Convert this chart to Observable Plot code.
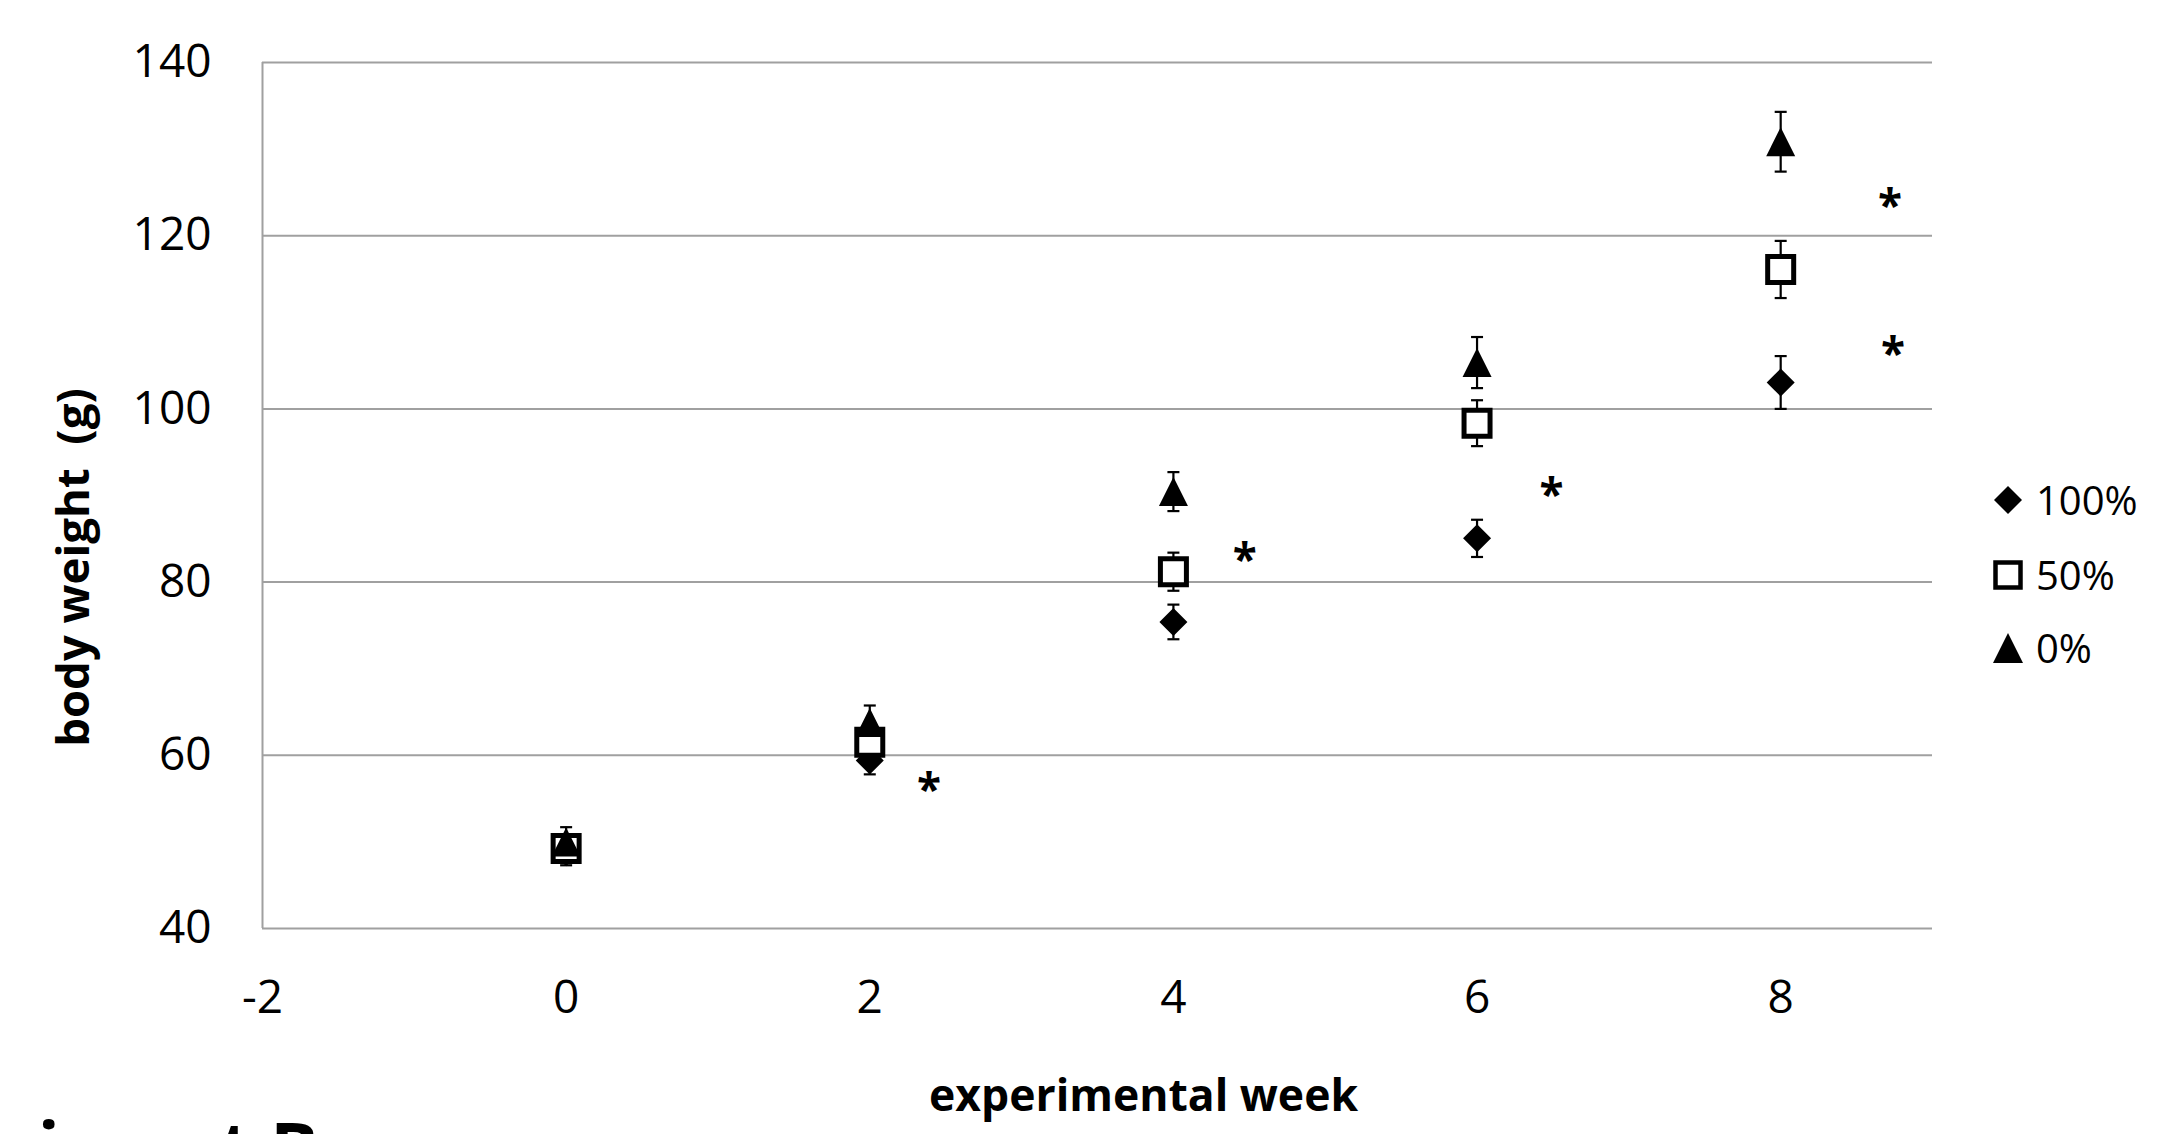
<!DOCTYPE html>
<html>
<head>
<meta charset="utf-8">
<script src="https://cdn.jsdelivr.net/npm/d3@7"></script>
<script src="https://cdn.jsdelivr.net/npm/@observablehq/plot@0.6"></script>
<style>
  html, body { margin: 0; padding: 0; background: #fff; }
  #wrap { position: relative; width: 2176px; height: 1134px; overflow: hidden; font-family: "Open Sans", sans-serif; color: #000; }
  #wrap svg.plot { position: absolute; left: 0; top: 0; }
  .lg { position: absolute; left: 1990px; height: 40px; display: flex; align-items: center; font-size: 40px; line-height: 40px; white-space: nowrap; }
  .lg svg { width: 36px; height: 36px; margin-right: 10px; overflow: visible; }
  #panel { position: absolute; left: -165px; top: 1110px; font-weight: bold; font-size: 72px; line-height: 72px; white-space: nowrap; }
</style>
</head>
<body>
<div id="wrap"></div>
<script>
// ---- data ----
const weeks = [0, 2, 4, 6, 8];
const groups = ["100%", "50%", "0%"];
const mean100 = [48.8, 59.4, 75.4, 85.05, 103.05];
const sem100  = [1.5, 1.6, 2.0, 2.15, 3.05];
const mean50  = [49.25, 61.5, 81.2, 98.35, 116.1];
const sem50   = [1.2, 1.4, 2.2, 2.65, 3.3];
const mean0   = [50.0, 63.8, 90.45, 105.35, 130.85];
const sem0    = [1.7, 1.95, 2.25, 2.95, 3.45];
const sigWeek   = [2.39, 4.47, 6.49, 8.72, 8.74];
const sigWeight = [56.8, 83.4, 90.9, 124.2, 107.2];
const sigLabel  = ["*", "*", "*", "*", "*"];
const xTicks = [-2, 0, 2, 4, 6, 8];
const yTicks = [40, 60, 80, 100, 120, 140];
const xLabel = "experimental week";
const yLabel = "body weight \u00a0(g)";
const panelLabel = "Experiment B";

// ---- tables built from the arrays ----
const series = [
  {group: groups[0], mean: mean100, sem: sem100},
  {group: groups[1], mean: mean50, sem: sem50},
  {group: groups[2], mean: mean0, sem: sem0}
];
const rows = series.flatMap(s => weeks.map((w, i) => ({group: s.group, week: w, mean: s.mean[i], sem: s.sem[i]})));
const byGroup = g => rows.filter(d => d.group === g);
const sig = sigWeek.map((w, i) => ({week: w, weight: sigWeight[i], label: sigLabel[i]}));

// ---- custom marker shapes (r = half extent) ----
const rad = size => Math.sqrt(size / Math.PI);
const diamondSym = {draw(c, s) { const r = rad(s); c.moveTo(0, -r); c.lineTo(r, 0); c.lineTo(0, r); c.lineTo(-r, 0); c.closePath(); }};
const squareSym  = {draw(c, s) { const r = rad(s); c.moveTo(-r, -r); c.lineTo(r, -r); c.lineTo(r, r); c.lineTo(-r, r); c.closePath(); }};
const triSym     = {draw(c, s) { const r = rad(s); c.moveTo(0, -r); c.lineTo(r, r); c.lineTo(-r, r); c.closePath(); }};
const capSym     = {draw(c, s) { const r = rad(s); c.moveTo(-r, 0); c.lineTo(r, 0); }};

const grid = "#a0a0a0";

const plot = Plot.plot({
  width: 2176,
  height: 1134,
  marginLeft: 262,
  marginRight: 244,
  marginTop: 62,
  marginBottom: 206,
  x: {domain: [-2, 9], ticks: xTicks},
  y: {domain: [40, 140], ticks: yTicks},
  style: {fontFamily: "Open Sans", fontSize: "46px", color: "#000", background: "transparent", overflow: "visible"},
  marks: [
    Plot.gridY(yTicks, {stroke: grid, strokeOpacity: 1, strokeWidth: 2}),
    Plot.ruleX([xTicks[0]], {stroke: grid, strokeOpacity: 1, strokeWidth: 2}),
    Plot.axisY(yTicks, {tickSize: 0, tickPadding: 51, fontSize: 46, label: null, tickFormat: d => String(d)}),
    Plot.axisX(xTicks, {tickSize: 0, tickPadding: 52, fontSize: 46, label: null, tickFormat: d => String(d)}),
    // error bars
    Plot.ruleX(rows, {x: "week", y1: d => d.mean - d.sem, y2: d => d.mean + d.sem, stroke: "#000", strokeWidth: 2.2}),
    Plot.dot(rows, {x: "week", y: d => d.mean + d.sem, symbol: capSym, r: 6, stroke: "#000", strokeWidth: 2.2}),
    Plot.dot(rows, {x: "week", y: d => d.mean - d.sem, symbol: capSym, r: 6, stroke: "#000", strokeWidth: 2.2}),
    // markers (Excel series order)
    Plot.dot(byGroup(groups[0]), {x: "week", y: "mean", symbol: diamondSym, r: 14, fill: "#000", stroke: "none"}),
    Plot.dot(byGroup(groups[1]), {x: "week", y: "mean", symbol: squareSym, r: 13, fill: "#fff", stroke: "#000", strokeWidth: 5}),
    Plot.dot(byGroup(groups[2]), {x: "week", y: "mean", symbol: triSym, r: 14.5, fill: "#000", stroke: "none"}),
    // significance asterisks
    Plot.text(sig, {x: "week", y: "weight", text: "label", fontSize: 44, fontWeight: "bold", dy: 8}),
    // axis titles
    Plot.text([xLabel], {text: d => d, frameAnchor: "bottom", textAnchor: "middle", dx: 46, dy: 168, fontSize: 44.5, fontWeight: "bold", lineAnchor: "middle"}),
    Plot.text([yLabel], {text: d => d, frameAnchor: "left", textAnchor: "middle", rotate: -90, dx: -188, dy: 72, fontSize: 45.5, fontWeight: "bold", lineAnchor: "middle"})
  ]
});
plot.classList.add("plot");
const wrap = document.getElementById("wrap");
wrap.appendChild(plot);

// ---- legend ----
const legendCenters = [500, 575, 648];
const legendShapes = [
  '<polygon points="18,4 32,18 18,32 4,18" fill="#000"/>',
  '<rect x="5.5" y="5.5" width="25" height="25" fill="#fff" stroke="#000" stroke-width="4.5"/>',
  '<polygon points="18,3 33,33 3,33" fill="#000"/>'
];
groups.forEach((g, i) => {
  const row = document.createElement("div");
  row.className = "lg";
  row.style.top = (legendCenters[i] - 20) + "px";
  row.innerHTML = '<svg viewBox="0 0 36 36">' + legendShapes[i] + '</svg><span>' + g + '</span>';
  wrap.appendChild(row);
});

// ---- cut-off panel caption at the bottom edge (as in the reference) ----
const panel = document.createElement("div");
panel.id = "panel";
panel.textContent = panelLabel;
wrap.appendChild(panel);
</script>
</body>
</html>
